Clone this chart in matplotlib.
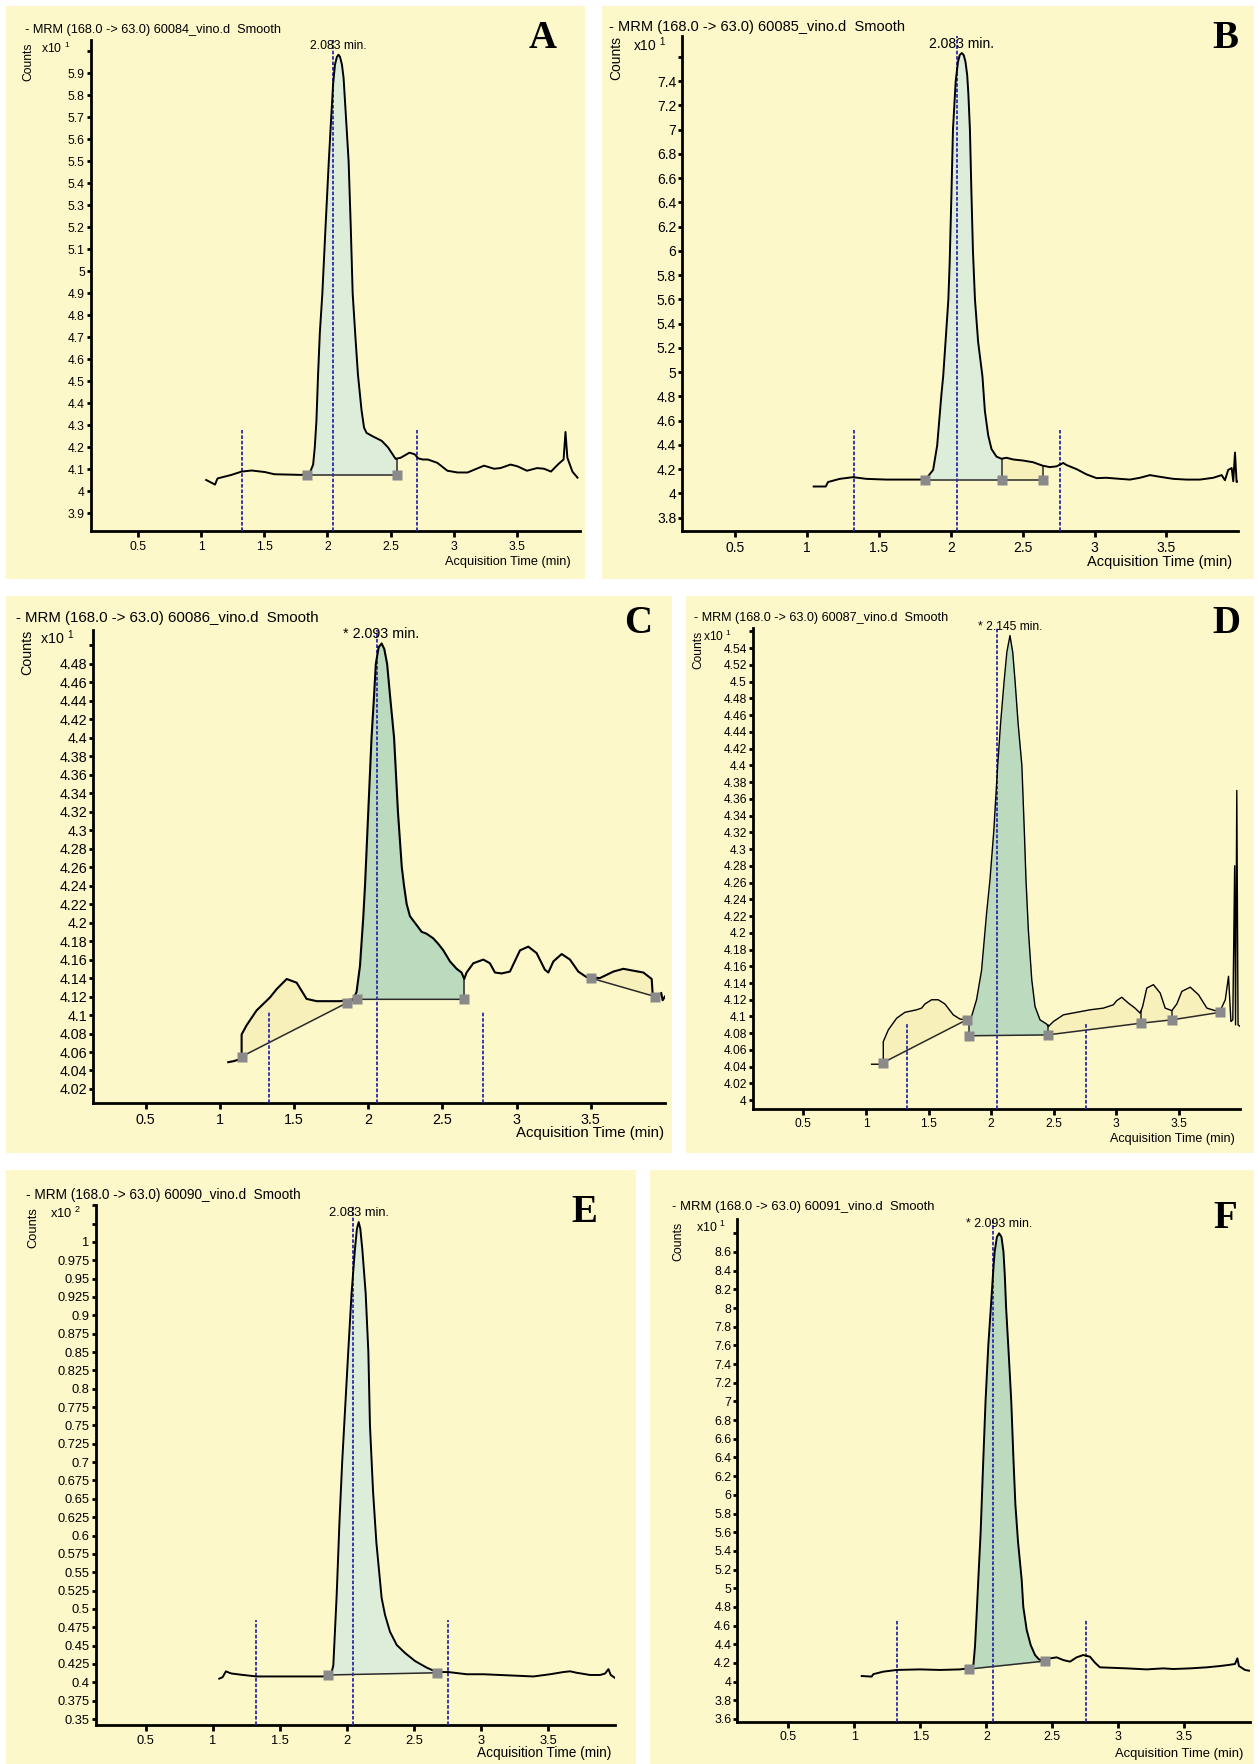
import numpy as np
import matplotlib
matplotlib.use("Agg")
import matplotlib.pyplot as plt
from matplotlib.patches import Rectangle

plt.rcParams['font.family'] = ['Liberation Sans', 'DejaVu Sans']
plt.rcParams['mathtext.default'] = 'regular'

W, H = 1259, 1764

BG = '#fdf8c9'
GREEN_LIGHT = '#deedda'
GREEN_DARK = '#bcdabd'
YELLOW_AREA = '#f8f0ba'
RT_BLUE = '#2b2ba6'
SQUARE = '#8a8a8a'

XTICKS = [0.5, 1, 1.5, 2, 2.5, 3, 3.5]

# ---------------- data ----------------
# A  60084_vino.d
A_time = [1.04, 1.11, 1.13, 1.24, 1.32, 1.40, 1.505, 1.58, 1.795, 1.86,
          1.887, 1.90, 1.913, 1.926, 1.94, 1.96, 1.985, 2.011, 2.03, 2.045,
          2.06, 2.075, 2.088, 2.10, 2.115, 2.128, 2.145, 2.168, 2.185, 2.20,
          2.222, 2.242, 2.27, 2.29, 2.31, 2.36, 2.43, 2.48, 2.54, 2.58,
          2.65, 2.69, 2.72, 2.755, 2.795, 2.87, 2.95, 3.03, 3.11, 3.16,
          3.24, 3.32, 3.37, 3.45, 3.505, 3.58, 3.66, 3.716, 3.77, 3.83,
          3.87, 3.885, 3.90, 3.94, 3.98]
A_counts = [4.052, 4.031, 4.059, 4.075, 4.09, 4.095, 4.088, 4.078, 4.075, 4.083,
            4.122, 4.20, 4.32, 4.53, 4.72, 4.90, 5.2, 5.5, 5.7, 5.85,
            5.94, 5.975, 5.985, 5.975, 5.94, 5.88, 5.72, 5.5, 5.2, 4.9,
            4.7, 4.53, 4.37, 4.29, 4.266, 4.25, 4.23, 4.2, 4.148, 4.153,
            4.176, 4.169, 4.15, 4.145, 4.145, 4.13, 4.094, 4.086, 4.086, 4.098,
            4.117, 4.103, 4.106, 4.122, 4.114, 4.094, 4.106, 4.103, 4.09, 4.125,
            4.145, 4.27, 4.153, 4.09, 4.0625]
A_base_t = [[1.84, 2.55]]
A_base_c = [[4.075, 4.075]]
A_regions = [(1.84, 2.55, 'g')]
A_drops = [2.55]
A_rt = [1.32, 2.045, 2.71]
A_rt_top = 4.28
A_yticks = np.round(np.arange(3.9, 6.0001, 0.1), 3)

# B  60085_vino.d
B_time = [1.046, 1.13, 1.146, 1.227, 1.32, 1.413, 1.552, 1.784, 1.83, 1.877,
          1.905, 1.935, 1.947, 1.965, 1.983, 1.992, 2.004, 2.015, 2.034, 2.05,
          2.062, 2.076, 2.09, 2.102, 2.114, 2.122, 2.133, 2.143, 2.154, 2.168,
          2.19, 2.22, 2.237, 2.26, 2.283, 2.318, 2.353, 2.387, 2.434, 2.503,
          2.573, 2.638, 2.689, 2.735, 2.782, 2.805, 2.875, 2.944, 3.014, 3.083,
          3.176, 3.246, 3.316, 3.385, 3.455, 3.548, 3.64, 3.733, 3.826, 3.884,
          3.907, 3.93, 3.954, 3.965, 3.977, 3.988, 4.0]
B_counts = [4.057, 4.057, 4.094, 4.12, 4.134, 4.12, 4.114, 4.114, 4.123, 4.194,
            4.394, 4.82, 4.966, 5.28, 5.6, 5.9, 6.45, 7.0, 7.4, 7.56,
            7.615, 7.632, 7.615, 7.56, 7.45, 7.3, 7.0, 6.5, 6.0, 5.6,
            5.25, 4.966, 4.68, 4.48, 4.366, 4.303, 4.286, 4.294, 4.28, 4.271,
            4.257, 4.229, 4.217, 4.223, 4.251, 4.234, 4.2, 4.157, 4.126, 4.129,
            4.12, 4.114, 4.129, 4.151, 4.137, 4.12, 4.114, 4.114, 4.129, 4.151,
            4.109, 4.194, 4.209, 4.10, 4.337, 4.094, 4.10]
B_base_t = [[1.82, 2.353, 2.64]]
B_base_c = [[4.109, 4.109, 4.109]]
B_regions = [(1.82, 2.353, 'g'), (2.353, 2.64, 'y')]
B_drops = [2.353, 2.64]
B_rt = [1.325, 2.046, 2.759]
B_rt_top = 4.52
B_yticks = np.round(np.arange(3.8, 7.6001, 0.2), 3)

# C  60086_vino.d
C_time = [1.056, 1.09, 1.13, 1.146, 1.146, 1.18, 1.247, 1.337, 1.382, 1.45,
          1.517, 1.584, 1.652, 1.809, 1.899, 1.921, 1.944, 1.966, 1.978, 2.0,
          2.022, 2.037, 2.051, 2.07, 2.09, 2.108, 2.127, 2.15, 2.174, 2.20,
          2.226, 2.241, 2.259, 2.281, 2.304, 2.337, 2.36, 2.393, 2.438, 2.472,
          2.506, 2.551, 2.596, 2.629, 2.647, 2.663, 2.708, 2.776, 2.82, 2.854,
          2.899, 2.955, 3.023, 3.079, 3.135, 3.191, 3.214, 3.248, 3.304, 3.36,
          3.416, 3.472, 3.562, 3.652, 3.72, 3.787, 3.855, 3.911, 3.918, 3.945,
          3.975, 3.985, 4.0]
C_counts = [4.049, 4.05, 4.052, 4.056, 4.079, 4.089, 4.105, 4.119, 4.128, 4.139,
            4.135, 4.1175, 4.115, 4.115, 4.117, 4.125, 4.153, 4.205, 4.24, 4.32,
            4.40, 4.44, 4.48, 4.498, 4.502, 4.496, 4.48, 4.44, 4.40, 4.32,
            4.26, 4.24, 4.22, 4.207, 4.202, 4.195, 4.19, 4.188, 4.183, 4.177,
            4.17, 4.158, 4.15, 4.146, 4.139, 4.146, 4.156, 4.16, 4.156, 4.146,
            4.145, 4.147, 4.17, 4.174, 4.167, 4.149, 4.146, 4.158, 4.166, 4.16,
            4.147, 4.141, 4.14, 4.147, 4.15, 4.148, 4.146, 4.139, 4.121, 4.119,
            4.124, 4.116, 4.12]
C_base_t = [[1.146, 1.854, 1.921, 2.647], [3.5, 3.933]]
C_base_c = [[4.055, 4.113, 4.117, 4.117], [4.14, 4.12]]
C_regions = [(1.146, 1.854, 'y'), (1.921, 2.647, 'g'), (3.5, 3.933, 'y')]
C_drops = [2.647]
C_rt = [1.333, 2.057, 2.771]
C_rt_top = 4.103
C_yticks = np.round(np.arange(4.02, 4.5001, 0.02), 3)

# D  60087_vino.d
D_time = [1.045, 1.125, 1.138, 1.138, 1.178, 1.245, 1.311, 1.404, 1.444, 1.471,
          1.524, 1.577, 1.63, 1.697, 1.75, 1.803, 1.843, 1.883, 1.923, 1.963,
          1.99, 2.02, 2.052, 2.075, 2.103, 2.125, 2.15, 2.172, 2.191, 2.215,
          2.245, 2.265, 2.278, 2.297, 2.324, 2.35, 2.39, 2.443, 2.457, 2.497,
          2.577, 2.683, 2.79, 2.896, 2.976, 3.003, 3.043, 3.096, 3.149, 3.19,
          3.21, 3.243, 3.296, 3.35, 3.39, 3.443, 3.483, 3.523, 3.59, 3.656,
          3.723, 3.79, 3.83, 3.87, 3.896, 3.915, 3.93, 3.945, 3.952, 3.962,
          3.972, 3.99]
D_counts = [4.043, 4.043, 4.046, 4.07, 4.084, 4.098, 4.105, 4.108, 4.11, 4.115,
            4.12, 4.12, 4.115, 4.102, 4.097, 4.096, 4.10, 4.12, 4.155, 4.223,
            4.263, 4.32, 4.40, 4.45, 4.50, 4.535, 4.555, 4.535, 4.50, 4.45,
            4.40, 4.32, 4.263, 4.203, 4.144, 4.112, 4.096, 4.091, 4.088, 4.094,
            4.102, 4.105, 4.108, 4.11, 4.114, 4.119, 4.123, 4.116, 4.11, 4.104,
            4.112, 4.134, 4.138, 4.128, 4.11, 4.107, 4.115, 4.13, 4.135, 4.126,
            4.11, 4.107, 4.107, 4.12, 4.148, 4.094, 4.096, 4.28, 4.09, 4.37,
            4.09, 4.088]
D_base_t = [[1.138, 1.803], [1.822, 2.45, 3.196, 3.443, 3.83]]
D_base_c = [[4.045, 4.096], [4.077, 4.078, 4.092, 4.096, 4.105]]
D_regions = [(1.138, 1.803, 'y'), (1.822, 2.45, 'g'), (2.45, 3.83, 'y')]
D_drops = [1.822, 2.45, 3.196, 3.443]
D_rt = [1.33, 2.044, 2.757]
D_rt_top = 4.092
D_yticks = np.round(np.arange(4.0, 4.5601, 0.02), 3)

# E  60090_vino.d
E_time = [1.049, 1.074, 1.099, 1.124, 1.141, 1.228, 1.327, 1.5, 1.65, 1.824,
          1.881, 1.899, 1.911, 1.923, 1.928, 1.945, 1.965, 1.98, 2.01, 2.035,
          2.06, 2.075, 2.088, 2.10, 2.115, 2.14, 2.16, 2.172, 2.195, 2.22,
          2.247, 2.259, 2.284, 2.321, 2.371, 2.433, 2.508, 2.595, 2.669, 2.756,
          2.893, 3.017, 3.141, 3.265, 3.39, 3.514, 3.613, 3.663, 3.713, 3.812,
          3.887, 3.924, 3.949, 3.966, 3.998]
E_counts = [0.405, 0.407, 0.415, 0.413, 0.412, 0.41, 0.408, 0.408, 0.408, 0.408,
            0.41, 0.423, 0.469, 0.515, 0.538, 0.62, 0.70, 0.75, 0.85, 0.93,
            0.99, 1.018, 1.027, 1.018, 0.99, 0.93, 0.85, 0.75, 0.66, 0.59,
            0.538, 0.515, 0.492, 0.469, 0.451, 0.44, 0.429, 0.42, 0.414, 0.414,
            0.411, 0.411, 0.41, 0.409, 0.408, 0.411, 0.414, 0.415, 0.413, 0.41,
            0.41, 0.412, 0.418, 0.41, 0.406]
E_base_t = [[1.857, 2.669]]
E_base_c = [[0.41, 0.413]]
E_regions = [(1.857, 2.669, 'g')]
E_drops = []
E_rt = [1.323, 2.048, 2.756]
E_rt_top = 0.485
E_yticks = np.round(np.arange(0.35, 1.0501, 0.025), 3)

# F  60091_vino.d
F_time = [1.056, 1.131, 1.144, 1.22, 1.321, 1.497, 1.649, 1.8, 1.864, 1.902,
          1.914, 1.927, 1.939, 1.957, 1.975, 1.994, 2.015, 2.034, 2.05, 2.063,
          2.08, 2.097, 2.115, 2.13, 2.14, 2.15, 2.17, 2.189, 2.205, 2.22,
          2.24, 2.268, 2.28, 2.306, 2.336, 2.369, 2.399, 2.444, 2.482, 2.533,
          2.583, 2.634, 2.684, 2.735, 2.785, 2.823, 2.861, 2.937, 3.063, 3.215,
          3.341, 3.417, 3.543, 3.669, 3.77, 3.833, 3.884, 3.902, 3.914, 3.96,
          3.99]
F_counts = [4.06, 4.054, 4.08, 4.107, 4.125, 4.131, 4.125, 4.131, 4.142, 4.178,
            4.374, 4.731, 5.088, 5.6, 6.3, 7.0, 7.6, 8.0, 8.35, 8.6,
            8.76, 8.80, 8.76, 8.6, 8.35, 8.0, 7.5, 7.0, 6.4, 5.9,
            5.5, 5.088, 4.802, 4.552, 4.392, 4.285, 4.238, 4.22, 4.249, 4.26,
            4.231, 4.214, 4.26, 4.285, 4.267, 4.203, 4.153, 4.149, 4.142, 4.131,
            4.142, 4.135, 4.142, 4.153, 4.167, 4.178, 4.189, 4.249, 4.167, 4.125,
            4.117]
F_base_t = [[1.872, 2.444]]
F_base_c = [[4.135, 4.22]]
F_regions = [(1.872, 2.444, 'g')]
F_drops = []
F_rt = [1.326, 2.048, 2.755]
F_rt_top = 4.66
F_yticks = np.round(np.arange(3.6, 8.8001, 0.2), 3)

# ---------------- layout (pixel boxes) ----------------
PANELS = [
    dict(key='A', time=A_time, counts=A_counts, base_t=A_base_t, base_c=A_base_c,
         regions=A_regions, drops=A_drops, rt=A_rt, rt_top=A_rt_top, yticks=A_yticks, n_hidden=1,
         file='60084_vino.d', peak='2.083 min.', exp=r'x10 $^{1}$', green=GREEN_LIGHT, lw=1.4,
         bg=(6, 6, 585, 579), axes=(90.6, 40, 580, 531), xlim=(0.125, 4.0), ylim=(3.82, 6.052),
         title_xy=(25, 30), letter_xy=(543, 39), xlabel_xy=(571, 562), fs=9.2,
         exp_dx=-20, counts_dx=-62),
    dict(key='B', time=B_time, counts=B_counts, base_t=B_base_t, base_c=B_base_c,
         regions=B_regions, drops=B_drops, rt=B_rt, rt_top=B_rt_top, yticks=B_yticks, n_hidden=1,
         file='60085_vino.d', peak='2.083 min.', exp=r'x10 $^{1}$', green=GREEN_LIGHT, lw=1.4,
         bg=(602, 6, 1254, 579), axes=(682, 36.3, 1238.3, 531), xlim=(0.13, 4.0), ylim=(3.69, 7.77),
         title_xy=(609, 27), letter_xy=(1225, 39), xlabel_xy=(1232, 562), fs=10.5,
         exp_dx=-16, counts_dx=-66),
    dict(key='C', time=C_time, counts=C_counts, base_t=C_base_t, base_c=C_base_c,
         regions=C_regions, drops=C_drops, rt=C_rt, rt_top=C_rt_top, yticks=C_yticks, n_hidden=1,
         file='60086_vino.d', peak='* 2.093 min.', exp=r'x10 $^{1}$', green=GREEN_DARK, lw=1.5,
         bg=(6, 596, 672, 1153), axes=(93, 630, 664.9, 1103.3), xlim=(0.144, 4.0), ylim=(4.0045, 4.5166),
         title_xy=(16, 618), letter_xy=(638, 623), xlabel_xy=(664, 1133), fs=10.8,
         exp_dx=-19, counts_dx=-66),
    dict(key='D', time=D_time, counts=D_counts, base_t=D_base_t, base_c=D_base_c,
         regions=D_regions, drops=D_drops, rt=D_rt, rt_top=D_rt_top, yticks=D_yticks, n_hidden=1,
         file='60087_vino.d', peak='* 2.145 min.', exp=r'x10 $^{1}$', green=GREEN_DARK, lw=1.0,
         bg=(686, 596, 1254, 1153), axes=(752.6, 628, 1240.3, 1108.6), xlim=(0.094, 3.99), ylim=(3.99, 4.564),
         title_xy=(694, 618), letter_xy=(1226, 623), xlabel_xy=(1235, 1139), fs=9.1,
         exp_dx=-20, counts_dx=-54),
    dict(key='E', time=E_time, counts=E_counts, base_t=E_base_t, base_c=E_base_c,
         regions=E_regions, drops=E_drops, rt=E_rt, rt_top=E_rt_top, yticks=E_yticks, n_hidden=2,
         file='60090_vino.d', peak='2.083 min.', exp=r'x10 $^{2}$', green=GREEN_LIGHT, lw=1.4,
         bg=(6, 1170, 636, 1764), axes=(95.5, 1205.2, 615.3, 1724.9), xlim=(0.127, 4.0), ylim=(0.342, 1.05),
         title_xy=(26, 1195), letter_xy=(584, 1213), xlabel_xy=(611, 1753), fs=9.8,
         exp_dx=-14, counts_dx=-62),
    dict(key='F', time=F_time, counts=F_counts, base_t=F_base_t, base_c=F_base_c,
         regions=F_regions, drops=F_drops, rt=F_rt, rt_top=F_rt_top, yticks=F_yticks, n_hidden=1,
         file='60091_vino.d', peak='* 2.093 min.', exp=r'x10 $^{1}$', green=GREEN_DARK, lw=1.4,
         bg=(650, 1170, 1254, 1764), axes=(737, 1219.3, 1250.3, 1721.7), xlim=(0.111, 4.0), ylim=(3.571, 8.95),
         title_xy=(672, 1207), letter_xy=(1225, 1218), xlabel_xy=(1243, 1754), fs=9.4,
         exp_dx=-11, counts_dx=-59),
]

fig = plt.figure(figsize=(W / 100, H / 100), dpi=100)
fig.patch.set_facecolor('white')


def fx(x):
    return x / W


def fy(y):
    return 1 - y / H


def draw_panel(P):
    x0, y0, x1, y1 = P['bg']
    fig.add_artist(Rectangle((fx(x0), fy(y1)), (x1 - x0) / W, (y1 - y0) / H,
                             transform=fig.transFigure, facecolor=BG, edgecolor='none', zorder=-5))
    l, t, r, b = P['axes']
    ax = fig.add_axes([fx(l), fy(b), (r - l) / W, (b - t) / H])
    ax.patch.set_visible(False)
    for s in ('top', 'right'):
        ax.spines[s].set_visible(False)
    for s in ('left', 'bottom'):
        ax.spines[s].set_linewidth(2.0)

    time = np.array(P['time'])
    counts = np.array(P['counts'])
    fs = P['fs']

    # integration areas
    for (s, e, kind) in P['regions']:
        for bt, bc in zip(P['base_t'], P['base_c']):
            if bt[0] - 1e-6 <= s <= bt[-1] + 1e-6:
                break
        inside = (time > s) & (time < e)
        tt = np.concatenate([[s], time[inside], [e]])
        cc = np.concatenate([[np.interp(s, time, counts)], counts[inside], [np.interp(e, time, counts)]])
        base = np.interp(tt, bt, bc)
        ax.fill_between(tt, cc, base, color=P['green'] if kind == 'g' else YELLOW_AREA,
                        lw=0, zorder=1)

    # baselines, drop lines, marker squares
    for bt, bc in zip(P['base_t'], P['base_c']):
        ax.plot(bt, bc, color='#2a2a2a', lw=1.1, zorder=3)
        ax.plot(bt, bc, ls='none', marker='s', ms=7.5, color=SQUARE, mec='none', zorder=6)
    for d in P['drops']:
        for bt, bc in zip(P['base_t'], P['base_c']):
            if bt[0] - 1e-6 <= d <= bt[-1] + 1e-6:
                ax.plot([d, d], [np.interp(d, bt, bc), np.interp(d, time, counts)],
                        color='#2a2a2a', lw=1.1, zorder=3)
                break

    # retention time window lines
    lo, hi = P['ylim']
    for k, rt in enumerate(P['rt']):
        top = hi if k == 1 else P['rt_top']
        ax.plot([rt, rt], [lo, top], color=RT_BLUE, lw=1.3, ls=(0, (2, 1)), zorder=4)

    ax.plot(time, counts, color='black', lw=P['lw'], zorder=5, solid_joinstyle='round')

    i = int(np.argmax(counts))
    ax.annotate(P['peak'], xy=(time[i], counts[i]), xytext=(0, 9), textcoords='offset pixels',
                ha='center', va='center', fontsize=fs * 0.95, zorder=7)

    ax.set_xlim(*P['xlim'])
    ax.set_ylim(lo, hi)
    ax.set_xticks(XTICKS)
    ax.set_xticklabels(['%g' % v for v in XTICKS])
    yt = list(P['yticks'])
    ylabels = ['%g' % v for v in yt]
    for j in range(P['n_hidden']):
        ylabels[-1 - j] = ''
    ax.set_yticks(yt)
    ax.set_yticklabels(ylabels)
    ax.tick_params(axis='y', direction='out', length=3, width=2.0, pad=1.2, labelsize=fs * 0.95)
    ax.tick_params(axis='x', direction='out', length=4.5, width=2.0, pad=2.5, labelsize=fs * 0.95)

    ax.annotate(P['exp'], xy=(0, 1), xycoords='axes fraction', xytext=(P['exp_dx'], -8),
                textcoords='offset pixels', ha='right', va='center', fontsize=fs * 0.95)
    ax.annotate('Counts', xy=(0, 1), xycoords='axes fraction', xytext=(P['counts_dx'], -22),
                textcoords='offset pixels', ha='center', va='center', rotation=90, fontsize=fs * 0.95)

    tx, ty = P['title_xy']
    fig.text(fx(tx), fy(ty), '- MRM (168.0 -> 63.0) %s  Smooth' % P['file'],
             ha='left', va='center', fontsize=fs)
    lx, ly = P['letter_xy']
    fig.text(fx(lx), fy(ly), P['key'], ha='center', va='center', fontsize=28,
             family=['Liberation Serif', 'DejaVu Serif'], fontweight='bold')
    ax_x, ax_y = P['xlabel_xy']
    fig.text(fx(ax_x), fy(ax_y), 'Acquisition Time (min)', ha='right', va='center', fontsize=fs)


for P in PANELS:
    draw_panel(P)

fig.savefig('out.png', dpi=100, facecolor='white')
